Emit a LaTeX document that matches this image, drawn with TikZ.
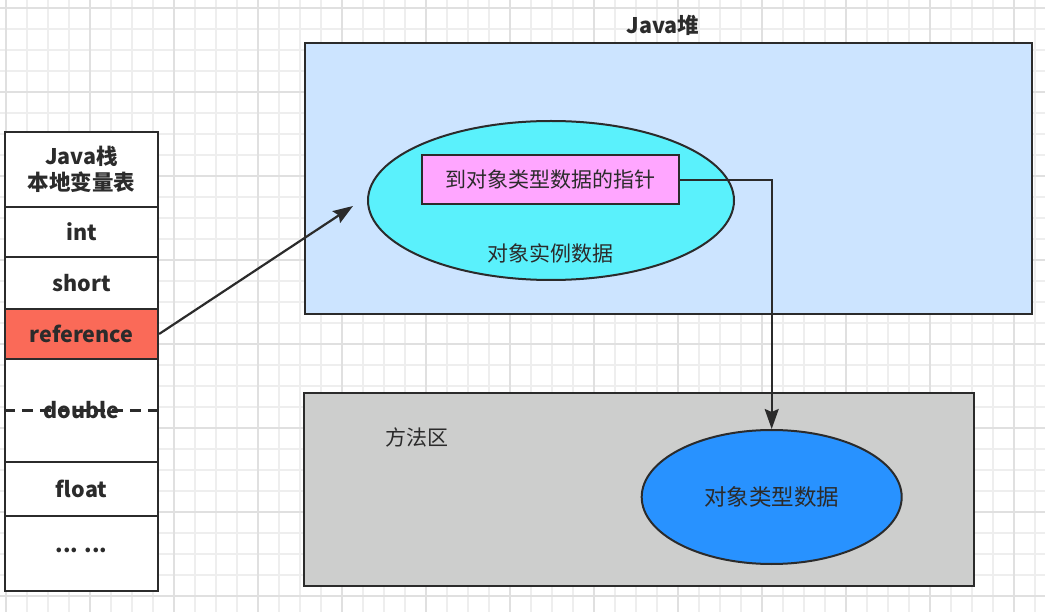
\documentclass[tikz,border=0pt]{standalone}
\usepackage{fontspec}
\setmainfont{Noto Sans CJK SC}
\usetikzlibrary{shapes.geometric,arrows.meta}
\definecolor{ink}{HTML}{2B2B2B}
\definecolor{redcell}{HTML}{FA6A58}
\definecolor{heapblue}{HTML}{CCE4FF}
\definecolor{cyanfill}{HTML}{5AF1FC}
\definecolor{pinkfill}{HTML}{FFA6FF}
\definecolor{greyfill}{HTML}{CDCECD}
\definecolor{bluefill}{HTML}{2892FF}
\definecolor{gridminor}{HTML}{EEEEEE}
\definecolor{gridmajor}{HTML}{E0E0E0}
\tikzset{
  lbl/.style={font=\fontsize{21}{26}\selectfont, text=ink},
  blbl/.style={font=\fontsize{21.5}{28}\selectfont\bfseries, text=ink},
  cell/.style={draw=ink, line width=2.2pt, fill=white, minimum width=153, inner sep=0pt, blbl},
  box/.style={draw=ink, line width=2.2pt, inner sep=0pt},
  oval/.style={ellipse, draw=ink, line width=2pt, inner sep=0pt},
  arr/.style={draw=ink, line width=2.2pt, -{Stealth[length=20pt,width=14pt,inset=3pt]}},
}
\begin{document}
\begin{tikzpicture}[x=1pt,y=-1pt]
\useasboundingbox (0,0) rectangle (1045,612);
\fill[white] (0,0) rectangle (1045,612);
% grid
\foreach \x in {6,27,...,1045} \draw[gridminor, line width=1.2pt] (\x,0) -- (\x,612);
\foreach \y in {8,29,...,612} \draw[gridminor, line width=1.2pt] (0,\y) -- (1045,\y);
\foreach \x in {6,90,...,1045} \draw[gridmajor, line width=1.2pt] (\x,0) -- (\x,612);
\foreach \y in {8,92,...,612} \draw[gridmajor, line width=1.2pt] (0,\y) -- (1045,\y);

% Java stack
\node[cell, minimum height=75, align=center] (hdr) at (81.5,169.5) {Java栈\\[-2pt]本地变量表};
\node[cell, minimum height=50] (int) at (81.5,232) {int};
\node[cell, minimum height=52] (short) at (81.5,283) {short};
\node[cell, minimum height=50, fill=redcell] (ref) at (81.5,334) {reference};
\node[cell, minimum height=103] (dbl) at (81.5,410.5) {};
\draw[ink, line width=2.2pt, dash pattern=on 11pt off 7pt] (dbl.west) -- (dbl.east);
\node[blbl] (dbltxt) at (dbl.center) {double};
\node[cell, minimum height=54] (flt) at (81.5,489) {float};
\node[cell, minimum height=75] (dots) at (81.5,553.5) {\raisebox{7pt}{... ...}};

% Java heap
\node[box, fill=heapblue, minimum width=727, minimum height=271] (heap) at (668.5,178.5) {};
\node[blbl] (heaplbl) at (663,25) {Java堆};
\node[oval, fill=cyanfill, minimum width=366, minimum height=159] (inst) at (551,200.5) {};
\node[box, fill=pinkfill, minimum width=257, minimum height=49, lbl] (ptr) at (550.3,179.7) {到对象类型数据的指针};
\node[lbl] (instlbl) at (550,253) {对象实例数据};

% method area
\node[box, fill=greyfill, minimum width=670, minimum height=193] (ma) at (639,489.4) {};
\node[lbl] (malbl) at (417,437) {方法区};
\node[oval, fill=bluefill, minimum width=260, minimum height=134, font=\fontsize{22.5}{26}\selectfont, text=ink] (cls) at (771.7,497) {对象类型数据};

% connectors
\coordinate (tip1) at (353,206);
\draw[arr] (ref.east) -- (tip1);
\draw[arr] (ptr.east) -| (cls.north);
\end{tikzpicture}
\end{document}
